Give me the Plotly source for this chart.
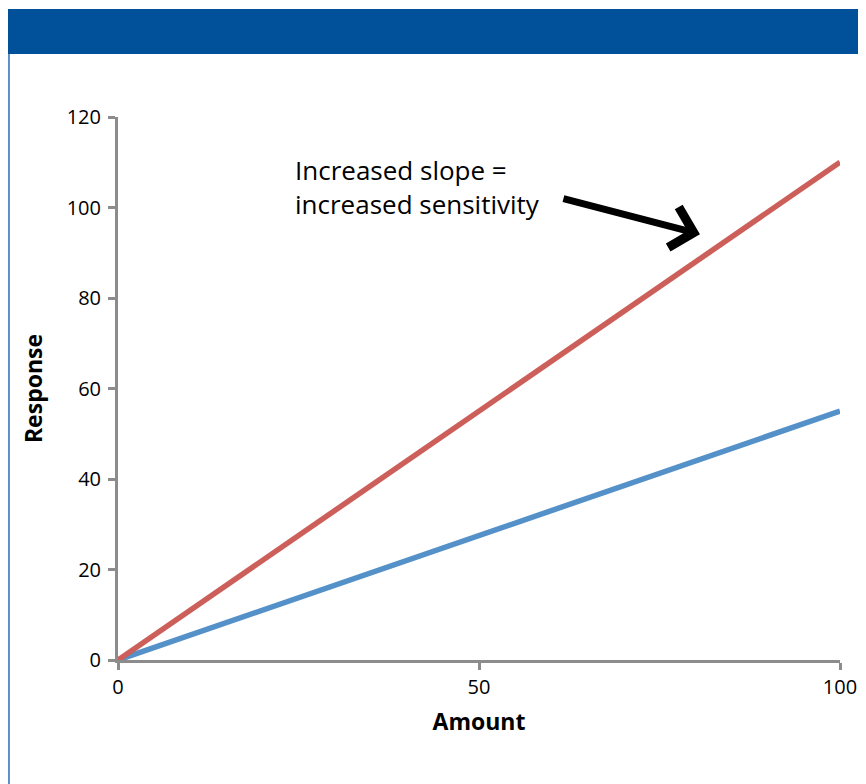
import plotly.graph_objects as go

amount = [0, 100]
response_low = [0, 55]
response_high = [0, 110]
x_ticks = [0, 50, 100]
y_ticks = [0, 20, 40, 60, 80, 100, 120]

FONT = "Open Sans"
AXIS_COLOR = "#8c8c8c"

fig = go.Figure()
fig.add_trace(go.Scatter(x=amount, y=response_low, mode="lines",
                         line=dict(color="#5591c9", width=5.5), showlegend=False))
fig.add_trace(go.Scatter(x=amount, y=response_high, mode="lines",
                         line=dict(color="#cd5f5a", width=5.5), showlegend=False))

fig.update_layout(
    width=866, height=784,
    margin=dict(l=110, r=34, t=109, b=132),
    paper_bgcolor="white", plot_bgcolor="white",
    font=dict(family=FONT, color="black", size=20),
    xaxis=dict(range=[0, 100], tickvals=x_ticks, showgrid=False, zeroline=False,
               showline=True, linecolor=AXIS_COLOR, linewidth=3,
               ticks="outside", ticklen=7, tickwidth=3, tickcolor=AXIS_COLOR,
               tickfont=dict(size=20), layer="below traces",
               title=dict(text="<b>Amount</b>", font=dict(size=23), standoff=15)),
    yaxis=dict(range=[0, 120], tickvals=y_ticks, showgrid=False, zeroline=False,
               showline=True, linecolor=AXIS_COLOR, linewidth=3,
               ticks="outside", ticklen=7, tickwidth=3, tickcolor=AXIS_COLOR,
               tickfont=dict(size=20), layer="below traces", ticklabelstandoff=3,
               title=dict(text="<b>Response</b>", font=dict(size=23), standoff=18)),
    shapes=[
        dict(type="rect", xref="paper", yref="paper",
             x0=-0.1524, x1=1.06, y0=1.116, y1=1.199,
             fillcolor="#00509a", line=dict(width=0), layer="above"),
        dict(type="line", xref="paper", yref="paper",
             x0=-0.1510, x1=-0.1510, y0=1.116, y1=-0.25,
             line=dict(color="#2a6db5", width=1.5)),
    ],
    annotations=[
        dict(text="Increased slope =<br>increased sensitivity", xref="paper", yref="paper",
             x=0.2430, y=0.871, xanchor="left", yanchor="middle", align="left",
             showarrow=False, font=dict(size=26, color="black")),
        dict(x=80.6, y=94.1, xref="x", yref="y", text="", showarrow=True,
             ax=-138, ay=-36, arrowhead=4, arrowsize=1.15, arrowwidth=7, arrowcolor="black"),
    ],
)

fig.write_html("out.html")
